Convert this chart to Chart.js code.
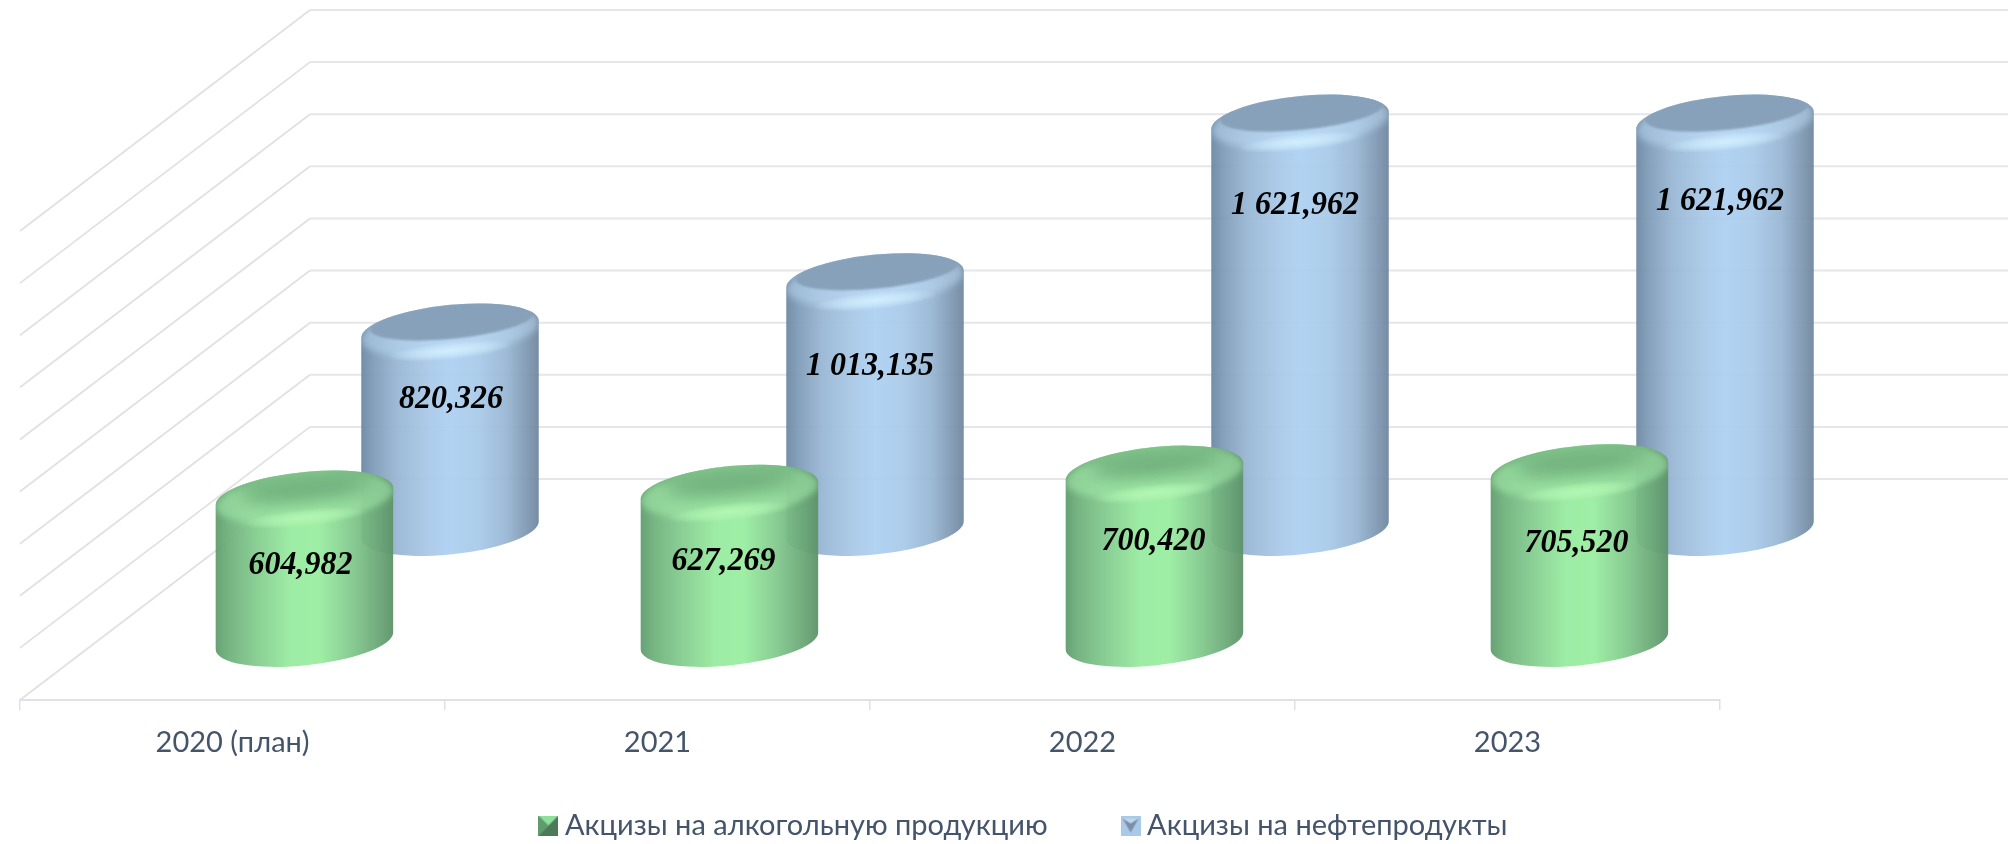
<!DOCTYPE html>
<html lang="ru">
<head>
<meta charset="utf-8">
<title>Акцизы</title>
<style>html,body{margin:0;padding:0;background:#fff}canvas{display:block}</style>
<script src="https://cdn.jsdelivr.net/npm/chart.js@4/dist/chart.umd.min.js"></script>
</head>
<body>
<canvas id="c" width="2008" height="844"></canvas>
<script>
const categories = ['2020 (план)', '2021', '2022', '2023'];
const alcoholName = 'Акцизы на алкогольную продукцию';
const fuelName = 'Акцизы на нефтепродукты';
const alcohol = [604.982, 627.269, 700.420, 705.520];
const fuel = [820.326, 1013.135, 1621.962, 1621.962];

const DEPTH_X = 290, DEPTH_Y = 221, SHIFT_X = -5.5, TOP_INSET = 13;
const FONT = 'Lato, "Noto Sans", sans-serif';
const TEXT = '#44546A';
const STYLE = [
  { depth: .769, labelDy: [70, 87, 85, 81], labelDx: [1, -5, -5, -5],
    stops: [[0,'#6d88a3'],[.07,'#7f9cb8'],[.2,'#98b6d3'],[.38,'#a9c9e7'],[.5,'#aed0f2'],[.66,'#a9cae9'],[.82,'#98b6d3'],[.93,'#8099b3'],[1,'#6f879f']],
    sheen: 'rgba(190,220,245,.5)', capDark: '#88a1ba', glow: 'rgba(208,238,252,', blur: 1.2, darkA: .92, darkB: .72, darkDx: 2 },
  { depth: .267, labelDy: [69, 71, 70, 73], labelDx: [-4, -6, -1, -3],
    stops: [[0,'#5f9c6d'],[.07,'#6fb07c'],[.22,'#83ca8e'],[.42,'#98eba0'],[.58,'#9aeda1'],[.76,'#83ca8e'],[.92,'#6aa676'],[1,'#5c9268']],
    sheen: 'rgba(165,236,172,.55)', capDark: '#74b380', glow: 'rgba(178,246,178,', blur: 9, darkA: .74, darkB: .66, darkDx: 2 }
];

function fmt(v) {
  const [i, d] = v.toFixed(3).split('.');
  return i.replace(/\B(?=(\d{3})+$)/g, ' ') + ',' + d;
}

function drawCylinder(ctx, s, cx, topY, botY, w) {
  const a = w / 2 * 1.004, b = w / 2 * .274, phi = -5.9 * Math.PI / 180;
  const tr = Math.atan2(-b * Math.sin(phi), a * Math.cos(phi));
  const ex = a * Math.cos(tr) * Math.cos(phi) - b * Math.sin(tr) * Math.sin(phi);
  const ey = a * Math.cos(tr) * Math.sin(phi) + b * Math.sin(tr) * Math.cos(phi);
  const silhouette = () => {
    ctx.beginPath();
    ctx.ellipse(cx, botY, a, b, phi, tr, tr + Math.PI);
    ctx.lineTo(cx - ex, topY - ey);
    ctx.ellipse(cx, topY, a, b, phi, tr + Math.PI, tr + 2 * Math.PI);
    ctx.closePath();
  };
  ctx.save();
  ctx.globalAlpha = .95;
  const g = ctx.createLinearGradient(cx - ex, 0, cx + ex, 0);
  s.stops.forEach(p => g.addColorStop(p[0], p[1]));
  silhouette();
  ctx.fillStyle = g;
  ctx.fill();
  ctx.restore();

  ctx.save();
  silhouette();
  ctx.clip();
  // soft lit shoulder of the cap, fading into the body
  ctx.filter = 'blur(3px)';
  ctx.beginPath();
  ctx.ellipse(cx, topY + 2, a, b, phi, 0, 2 * Math.PI);
  ctx.fillStyle = s.sheen;
  ctx.fill();
  // darker inner face of the cap
  ctx.filter = 'blur(' + s.blur + 'px)';
  ctx.beginPath();
  ctx.ellipse(cx + s.darkDx, topY - b * .33, a * s.darkA, b * s.darkB, phi, 0, 2 * Math.PI);
  ctx.fillStyle = s.capDark;
  ctx.fill();
  if (s.blur > 3) {
    // the whole face is a little darker at the back edge
    ctx.filter = 'blur(4px)';
    ctx.globalAlpha = .5;
    ctx.beginPath();
    ctx.ellipse(cx, topY - b * .75, a * .9, b * .45, phi, 0, 2 * Math.PI);
    ctx.fill();
    ctx.globalAlpha = 1;
  }
  ctx.filter = 'none';
  ctx.restore();

  // highlight on the front rim
  ctx.save();
  ctx.translate(cx, topY + b * .88);
  ctx.rotate(phi);
  ctx.scale(1, .14);
  const r = ctx.createRadialGradient(0, 0, 0, 0, 0, a * .7);
  r.addColorStop(0, s.glow + '1)');
  r.addColorStop(.5, s.glow + '.6)');
  r.addColorStop(1, s.glow + '0)');
  ctx.fillStyle = r;
  ctx.beginPath();
  ctx.arc(0, 0, a * .7, 0, 2 * Math.PI);
  ctx.fill();
  ctx.restore();
}

const scene = {
  id: 'scene',
  afterLayout(chart) {
    const l = chart.legend, x = chart.scales.x;
    l.left += 157; l.right += 157; l.top += 6; l.bottom += 6;
    x.bottom = x.top + 90; x.height = 90;
  },
  beforeDatasetsDraw(chart) {
    const ctx = chart.ctx, ya = chart.scales.y, xa = chart.scales.x;
    ctx.save();
    ya.ticks.forEach(t => {
      const y = ya.getPixelForValue(t.value);
      ctx.strokeStyle = '#e1e1e3';
      ctx.lineWidth = 1.8;
      ctx.beginPath();
      ctx.moveTo(xa.left, y);
      ctx.lineTo(xa.left + DEPTH_X, y - DEPTH_Y);
      ctx.stroke();
      ctx.strokeStyle = '#e5e5ec';
      ctx.lineWidth = 2;
      ctx.beginPath();
      ctx.moveTo(xa.left + DEPTH_X, y - DEPTH_Y);
      ctx.lineTo(xa.right + DEPTH_X, y - DEPTH_Y);
      ctx.stroke();
    });
    ctx.restore();
    STYLE.forEach((s, di) => {
      chart.getDatasetMeta(di).data.forEach(el => {
        const cx = el.x + SHIFT_X + DEPTH_X * s.depth;
        drawCylinder(ctx, s, cx, el.y - DEPTH_Y * s.depth + TOP_INSET, el.base - DEPTH_Y * s.depth, el.width);
      });
    });
  },
  afterDatasetsDraw(chart) {
    const ctx = chart.ctx;
    STYLE.forEach((s, di) => {
      const values = chart.data.datasets[di].data;
      chart.getDatasetMeta(di).data.forEach((el, i) => {
        const cx = el.x + SHIFT_X + DEPTH_X * s.depth + s.labelDx[i];
        const y = el.y - DEPTH_Y * s.depth + TOP_INSET + s.labelDy[i];
        ctx.save();
        ctx.translate(cx, y);
        ctx.scale(.94, 1);
        ctx.fillStyle = '#000';
        ctx.font = 'italic bold 34px "Liberation Serif", serif';
        ctx.textAlign = 'center';
        ctx.textBaseline = 'middle';
        ctx.fillText(fmt(values[i]), 0, 0);
        ctx.restore();
      });
    });
  }
};

function marker(kind) {
  const c = document.createElement('canvas');
  c.width = 20; c.height = 20;
  const x = c.getContext('2d');
  const tri = (col, pts) => {
    x.fillStyle = col; x.beginPath();
    pts.forEach((p, i) => i ? x.lineTo(p[0], p[1]) : x.moveTo(p[0], p[1]));
    x.closePath(); x.fill();
  };
  if (kind === 0) {
    x.fillStyle = '#8ee09a'; x.fillRect(0, 0, 20, 20);
    tri('#8ee09a', [[0,0],[20,0],[10,10]]);
    tri('#5f9c6d', [[0,0],[10,10],[0,20]]);
    tri('#4c7a58', [[20,0],[20,20],[0,20]]);
  } else {
    x.fillStyle = '#a9c9e8'; x.fillRect(0, 0, 20, 20);
    tri('#7d8fa6', [[2,3],[18,3],[10,17]]);
    tri('#bcd7f0', [[2,3],[18,3],[10,8]]);
  }
  return c;
}

new Chart(document.getElementById('c'), {
  type: 'bar',
  data: {
    labels: categories,
    datasets: [
      { label: fuelName, data: fuel, backgroundColor: 'rgba(0,0,0,0)', grouped: false, order: 1 },
      { label: alcoholName, data: alcohol, backgroundColor: 'rgba(0,0,0,0)', grouped: false, order: 2 }
    ]
  },
  options: {
    responsive: false,
    animation: false,
    events: [],
    devicePixelRatio: 1,
    barPercentage: .418,
    categoryPercentage: 1,
    layout: { padding: { left: 20, right: 288, top: 231, bottom: 0 } },
    scales: {
      x: {
        offset: true,
        afterFit(s) { s.height = 144 - (s.chart.legend ? s.chart.legend.height : 44); },
        border: { color: '#e0e0ea', width: 2 },
        grid: { color: '#e0e0ea', lineWidth: 1.5, drawOnChartArea: false, drawTicks: true, tickLength: 10, offset: true },
        ticks: { color: TEXT, font: { family: FONT, size: 29 }, padding: 15, maxRotation: 0 }
      },
      y: { display: false, min: 0, max: 1800, ticks: { stepSize: 200 } }
    },
    plugins: {
      tooltip: { enabled: false },
      title: { display: false },
      legend: {
        position: 'bottom',
        labels: {
          color: TEXT,
          font: { family: FONT, size: 29 },
          boxWidth: 4,
          padding: 81,
          usePointStyle: true,
          generateLabels() {
            return [
              { text: alcoholName, pointStyle: marker(0), fontColor: TEXT, datasetIndex: 1 },
              { text: fuelName, pointStyle: marker(1), fontColor: TEXT, datasetIndex: 0 }
            ];
          }
        }
      }
    }
  },
  plugins: [scene]
});
</script>
</body>
</html>
